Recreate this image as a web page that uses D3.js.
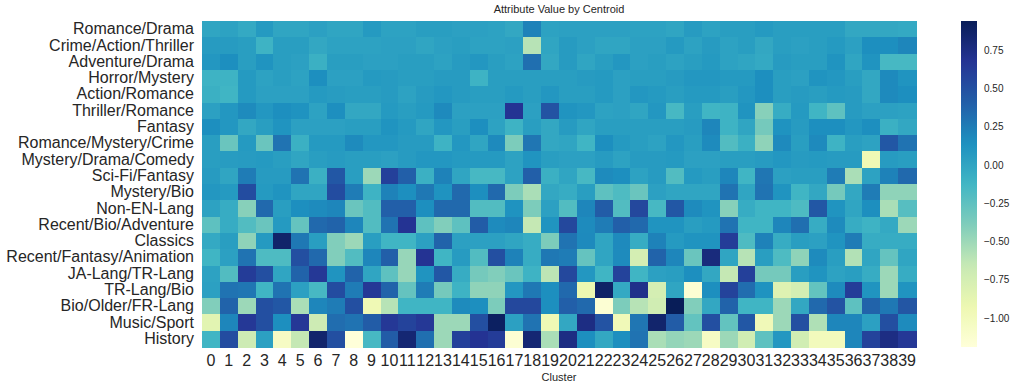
<!DOCTYPE html>
<html>
<head>
<meta charset="utf-8">
<script src="https://cdn.jsdelivr.net/npm/d3@7"></script>
<style>
  body { margin: 0; background: #fff; }
  svg { font-family: "Liberation Sans", Arial, sans-serif; }
</style>
</head>
<body>
<div class="chart"></div>
<script>
var categories = ["Romance/Drama", "Crime/Action/Thriller", "Adventure/Drama", "Horror/Mystery",
  "Action/Romance", "Thriller/Romance", "Fantasy", "Romance/Mystery/Crime", "Mystery/Drama/Comedy",
  "Sci-Fi/Fantasy", "Mystery/Bio", "Non-EN-Lang", "Recent/Bio/Adventure", "Classics",
  "Recent/Fantasy/Animation", "JA-Lang/TR-Lang", "TR-Lang/Bio", "Bio/Older/FR-Lang", "Music/Sport", "History"];

var clusters = d3.range(40).map(String);

var cbarTicks = [-1.0, -0.75, -0.5, -0.25, 0.0, 0.25, 0.5, 0.75];

// one row per category, one value per cluster
var values = [
  [0.0,0.02,-0.03,0.08,0.0,0.0,0.03,0.0,0.0,0.08, 0.02,0.02,0.05,0.05,0.03,0.03,0.02,-0.02,0.22,0.02, 0.03,0.03,0.03,0.03,0.02,0.02,0.0,0.07,0.02,0.05, 0.05,0.08,0.05,0.05,0.05,0.05,-0.02,-0.02,-0.02,-0.03],
  [0.07,0.07,0.05,-0.1,0.05,0.05,-0.02,0.02,0.02,0.02, 0.03,0.03,0.0,0.03,0.05,0.02,0.02,0.03,-0.6,0.0, 0.07,0.03,0.0,0.0,0.03,0.03,0.08,0.02,0.07,0.02, 0.05,-0.02,0.05,0.03,0.05,0.08,0.03,0.15,0.15,0.2],
  [0.1,0.15,0.05,0.12,0.05,0.03,-0.08,0.05,0.05,0.03, 0.03,0.05,0.05,0.02,0.07,0.1,0.05,0.02,0.32,-0.02, 0.07,0.0,0.05,0.1,0.03,0.05,0.02,0.05,0.08,0.02, 0.0,-0.03,0.07,0.05,0.05,0.12,0.0,0.12,-0.15,-0.15],
  [-0.1,-0.1,0.08,0.02,0.05,0.02,0.15,0.03,0.03,0.08, 0.07,0.05,0.05,0.07,0.07,-0.1,0.05,0.05,0.05,0.05, 0.05,0.07,0.08,0.03,0.05,0.05,0.07,0.1,0.1,0.08, 0.08,0.15,0.05,0.03,0.12,0.1,0.05,-0.02,0.18,0.12],
  [-0.08,-0.12,0.08,0.03,0.03,0.03,0.08,0.06,0.05,0.05, 0.07,0.02,0.07,0.1,0.07,0.05,0.05,0.08,0.05,0.1, 0.05,0.05,0.08,0.03,0.1,0.08,0.05,0.08,0.08,0.05, 0.1,0.15,0.05,0.07,0.05,0.08,0.07,-0.02,0.18,0.15],
  [0.03,0.1,0.17,0.1,0.15,0.13,0.02,0.15,-0.02,-0.02, 0.08,0.05,0.08,0.18,0.03,0.03,0.03,0.68,0.03,0.48, 0.12,0.1,0.02,0.03,0.0,0.1,-0.15,0.05,-0.12,-0.1, 0.12,-0.42,-0.05,0.08,-0.12,-0.25,0.07,0.03,0.03,0.02],
  [0.15,0.1,-0.02,0.05,0.12,0.03,0.03,0.03,0.05,0.05, 0.12,0.08,0.0,0.1,0.05,0.15,0.02,-0.1,0.05,-0.02, 0.07,0.0,0.05,0.05,0.05,0.05,0.05,0.07,0.2,-0.1, 0.0,-0.35,0.13,0.07,0.15,0.15,0.1,0.15,-0.08,-0.02],
  [0.05,-0.3,0.08,-0.3,0.3,-0.08,0.08,0.08,0.17,0.1, 0.1,0.07,0.07,-0.1,0.1,0.0,0.18,-0.38,0.28,-0.02, 0.0,-0.12,0.15,0.08,0.05,0.02,0.1,0.05,0.17,-0.2, -0.08,-0.45,0.18,0.05,0.18,-0.1,0.05,0.02,0.45,0.3],
  [0.05,0.06,0.07,0.08,0.05,0.0,0.05,0.07,0.05,0.05, 0.03,0.07,0.1,0.1,0.08,0.08,0.08,0.02,0.12,0.05, 0.03,0.03,0.07,0.02,0.07,0.07,0.08,0.03,0.03,0.05, 0.05,0.07,0.1,0.07,0.08,0.07,0.07,-0.95,0.07,0.05],
  [0.07,0.0,0.25,0.07,0.07,0.3,-0.08,0.45,0.05,-0.5, 0.6,0.4,-0.08,0.22,0.0,-0.15,-0.15,0.02,0.4,-0.08, 0.0,-0.15,0.17,0.15,0.02,0.07,-0.2,0.08,0.05,0.2, -0.12,0.28,0.03,0.05,0.05,0.25,-0.55,0.02,0.22,0.35],
  [0.1,0.08,0.52,0.08,0.12,0.0,0.0,0.52,0.25,-0.1, 0.22,0.15,0.27,0.13,0.35,0.15,0.35,-0.38,-0.55,-0.02, -0.05,0.05,-0.25,-0.18,-0.3,0.03,0.0,0.0,0.0,0.3, 0.0,0.3,0.12,-0.12,-0.02,-0.35,-0.02,0.25,-0.45,-0.45],
  [0.02,-0.05,-0.42,0.35,0.05,0.15,0.17,0.2,-0.3,-0.2, 0.4,0.4,0.15,0.35,0.35,-0.2,-0.2,0.13,-0.38,0.03, -0.2,0.2,0.42,-0.2,0.55,-0.15,0.45,0.17,0.12,-0.42, -0.05,-0.12,-0.12,-0.18,0.45,0.12,0.0,0.15,-0.55,-0.22],
  [-0.25,-0.05,-0.2,-0.3,0.08,-0.28,0.35,0.38,0.2,-0.2, 0.3,0.68,-0.25,-0.4,-0.25,0.42,0.17,0.2,-0.65,0.12, 0.55,0.17,0.25,0.4,0.35,0.12,0.12,0.05,0.08,0.3, -0.12,-0.12,0.2,0.32,-0.05,0.17,-0.05,-0.1,-0.03,-0.5],
  [-0.03,0.05,-0.45,0.08,0.86,0.27,0.05,-0.4,-0.5,0.05, -0.12,-0.12,0.03,0.38,0.03,0.03,0.03,0.0,-0.05,-0.38, 0.3,0.18,0.0,0.18,-0.05,0.22,0.08,0.12,0.12,0.62, -0.18,0.22,-0.05,0.05,0.03,0.12,0.25,-0.05,-0.05,-0.05],
  [-0.12,0.03,0.3,-0.18,-0.18,0.5,0.35,-0.4,-0.2,0.2, 0.4,-0.48,0.68,-0.12,0.07,-0.2,0.5,0.22,-0.05,0.27, 0.25,-0.28,0.0,0.17,-0.75,0.38,0.2,-0.3,0.78,0.0, -0.6,0.05,-0.18,-0.45,0.17,0.05,-0.58,0.0,-0.28,0.0],
  [0.02,-0.2,0.62,0.5,0.0,0.38,0.65,0.12,0.38,0.0, -0.25,-0.48,0.12,0.45,-0.05,-0.35,-0.4,-0.3,-0.1,-0.62, 0.55,0.1,-0.12,0.58,-0.12,0.03,0.05,0.15,-0.02,-0.65, 0.6,-0.35,-0.35,0.05,0.12,0.02,0.05,-0.05,-0.5,-0.05],
  [0.03,0.3,0.28,-0.12,0.3,0.03,-0.15,0.52,0.25,0.65, 0.38,-0.28,0.25,-0.35,-0.1,-0.45,-0.45,0.1,0.27,0.15, 0.35,-0.92,0.88,-0.03,0.72,-0.75,0.0,-1.15,0.15,0.58, 0.33,0.13,-0.82,-0.75,-0.27,0.17,0.62,0.12,-0.5,0.12],
  [-0.4,0.38,-0.5,0.5,0.45,-0.55,0.2,0.25,0.5,-0.95, -0.6,-0.12,-0.12,-0.12,0.17,0.15,-0.38,0.55,0.55,0.15, 0.4,0.35,-1.15,-0.38,-0.6,-0.72,0.94,-0.4,-0.02,0.38, -0.12,-0.12,-0.5,-0.02,0.35,0.48,-0.25,0.38,0.27,0.46],
  [-0.85,0.2,0.65,0.5,0.15,0.65,-0.7,0.33,0.3,0.42, 0.65,0.58,0.65,-0.5,-0.5,0.5,0.9,0.03,0.3,-0.95, -0.02,0.75,0.48,-0.97,0.28,0.85,0.42,-0.27,0.5,-0.27, 0.45,-0.97,-0.5,0.5,-0.57,0.2,0.2,0.03,0.5,0.17],
  [-0.12,0.52,-0.7,0.03,-1.05,-0.65,0.85,0.5,-1.19,-0.15, 0.42,0.82,0.32,-0.5,0.6,0.68,0.62,-1.15,0.82,-0.55, 0.75,0.15,-0.02,0.15,0.3,-0.55,-0.47,-0.5,-1.05,-0.5, -0.72,-0.25,0.1,-0.72,-1.0,-1.0,0.2,0.58,0.75,0.65]
];

// matplotlib YlGnBu, linear between the brewer stops
var ylgnbu = ["#ffffd9", "#edf8b1", "#c7e9b4", "#7fcdbb", "#41b6c4", "#1d91c0", "#225ea8", "#253494", "#081d58"];

function heatmap(){
  var w = 1016;
  var h = 390;
  var left = 202, right = 916, top = 21, bottom = 347;
  var textColor = "#262626";

  var svg = d3.select(".chart")
              .append("svg")
              .attr("width", w)
              .attr("height", h);

  var cells = [];
  values.forEach(function(row, r){
    row.forEach(function(v, c){
      cells.push({row: categories[r], col: clusters[c], value: v});
    });
  });

  var ext = d3.extent(cells, function(d){ return d.value; });

  var t = d3.scaleLinear().domain(ext).range([0, 1]);
  var ramp = d3.scaleLinear()
               .domain(d3.range(ylgnbu.length).map(function(i){ return i / (ylgnbu.length - 1); }))
               .range(ylgnbu)
               .interpolate(d3.interpolateRgb);
  var color = function(v){ return ramp(t(v)); };

  var x = d3.scaleBand()
            .domain(clusters)
            .range([left, right]);

  var y = d3.scaleBand()
            .domain(categories)
            .range([top, bottom]);

  svg.append("g")
     .attr("shape-rendering", "crispEdges")
    .selectAll("rect")
    .data(cells)
    .join("rect")
      .attr("x", function(d){ return x(d.col); })
      .attr("y", function(d){ return y(d.row); })
      .attr("width", x.bandwidth() + 0.5)
      .attr("height", y.bandwidth() + 0.5)
      .attr("fill", function(d){ return color(d.value); });

  // axes, seaborn style: no lines, just labels
  var yAxis = d3.axisLeft(y).tickSize(0).tickPadding(8);
  var gy = svg.append("g")
              .attr("transform", "translate(" + left + ",0)")
              .call(yAxis);
  gy.select(".domain").remove();
  gy.selectAll("text")
    .style("font-size", "16px")
    .style("font-family", "Liberation Sans, Arial, sans-serif")
    .attr("fill", textColor);

  var xAxis = d3.axisBottom(x).tickSize(0).tickPadding(8);
  var gx = svg.append("g")
              .attr("transform", "translate(0," + bottom + ")")
              .call(xAxis);
  gx.select(".domain").remove();
  gx.selectAll("text")
    .style("font-size", "16px")
    .style("font-family", "Liberation Sans, Arial, sans-serif")
    .attr("fill", textColor);

  svg.append("text")
     .attr("x", (left + right) / 2)
     .attr("y", 13)
     .attr("text-anchor", "middle")
     .attr("fill", textColor)
     .style("font-size", "11px")
     .text("Attribute Value by Centroid");

  svg.append("text")
     .attr("x", (left + right) / 2)
     .attr("y", 381)
     .attr("text-anchor", "middle")
     .attr("fill", textColor)
     .style("font-size", "11px")
     .text("Cluster");

  // colorbar
  var cbX = 961, cbW = 16;
  var cy = d3.scaleLinear().domain(ext).range([bottom, top]);

  var grad = svg.append("defs")
                .append("linearGradient")
                .attr("id", "cbar")
                .attr("x1", 0).attr("y1", 1)
                .attr("x2", 0).attr("y2", 0);
  grad.selectAll("stop")
      .data(d3.range(0, 1.0001, 0.02))
      .join("stop")
        .attr("offset", function(d){ return d; })
        .attr("stop-color", function(d){ return ramp(d); });

  svg.append("rect")
     .attr("x", cbX)
     .attr("y", top)
     .attr("width", cbW)
     .attr("height", bottom - top)
     .attr("fill", "url(#cbar)");

  var cAxis = d3.axisRight(cy)
                .tickValues(cbarTicks)
                .tickFormat(d3.format(".2f"))
                .tickSize(0)
                .tickPadding(7);
  var gc = svg.append("g")
              .attr("transform", "translate(" + (cbX + cbW) + ",0)")
              .call(cAxis);
  gc.select(".domain").remove();
  gc.selectAll("text")
    .style("font-size", "10px")
    .style("font-family", "Liberation Sans, Arial, sans-serif")
    .attr("fill", textColor);
}

window.onload = heatmap;
</script>
</body>
</html>
